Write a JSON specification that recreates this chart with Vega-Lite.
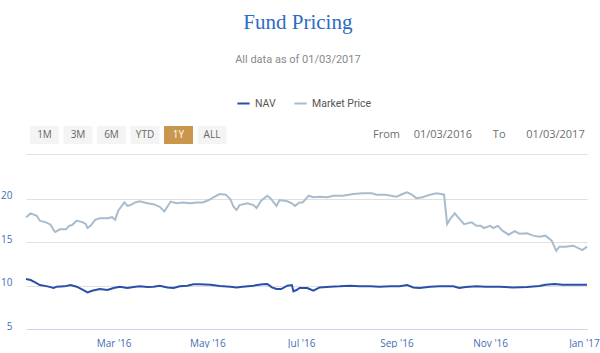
{
  "$schema": "https://vega.github.io/schema/vega-lite/v6.json",
  "background": "white",
  "padding": {"left": 0, "top": 12, "right": 0, "bottom": 0},
  "spacing": 10,
  "title": {
    "text": "Fund Pricing",
    "subtitle": "All data as of 01/03/2017",
    "anchor": "middle",
    "frame": "bounds",
    "font": "Liberation Serif",
    "fontSize": 21,
    "fontWeight": "normal",
    "color": "#2b6cc3",
    "subtitleFont": "Liberation Sans Narrow, Roboto",
    "subtitleFontSize": 11,
    "subtitleColor": "#8a8a8a",
    "subtitlePadding": 21,
    "offset": 31,
    "dx": -2
  },
  "vconcat": [
    {
      "width": 561,
      "height": 18,
      "layer": [
        {
          "data": {"values": [
            {"label": "1M", "selected": false},
            {"label": "3M", "selected": false},
            {"label": "6M", "selected": false},
            {"label": "YTD", "selected": false},
            {"label": "1Y", "selected": true},
            {"label": "ALL", "selected": false}
          ]},
          "mark": {"type": "rect"},
          "encoding": {
            "x": {"field": "label", "type": "nominal", "sort": null,
                  "scale": {"type": "band", "domain": ["1M", "3M", "6M", "YTD", "1Y", "ALL"], "range": [4, 200.5], "paddingInner": 0.134, "paddingOuter": 0},
                  "axis": null},
            "fill": {"condition": {"test": "datum.selected", "value": "#c9964c"}, "value": "#f4f4f4"}
          }
        },
        {
          "data": {"values": [
            {"label": "1M", "selected": false},
            {"label": "3M", "selected": false},
            {"label": "6M", "selected": false},
            {"label": "YTD", "selected": false},
            {"label": "1Y", "selected": true},
            {"label": "ALL", "selected": false}
          ]},
          "mark": {"type": "text", "font": "Open Sans", "fontSize": 10},
          "encoding": {
            "x": {"field": "label", "type": "nominal", "sort": null,
                  "scale": {"type": "band", "domain": ["1M", "3M", "6M", "YTD", "1Y", "ALL"], "range": [4, 200.5], "paddingInner": 0.134, "paddingOuter": 0},
                  "axis": null},
            "text": {"field": "label"},
            "color": {"condition": {"test": "datum.selected", "value": "#ffffff"}, "value": "#666666"}
          }
        },
        {
          "data": {"values": [
            {"item": "From"},
            {"item": "01/03/2016"},
            {"item": "To"},
            {"item": "01/03/2017"}
          ]},
          "mark": {"type": "text", "font": "Open Sans", "fontSize": 11, "color": "#6e6e6e"},
          "encoding": {
            "x": {"field": "item", "type": "nominal", "sort": null,
                  "scale": {"type": "point", "domain": ["From", "01/03/2016", "To", "01/03/2017"], "range": [360.5, 529.5], "padding": 0},
                  "axis": null},
            "text": {"field": "item"}
          }
        }
      ],
      "resolve": {"scale": {"x": "independent"}}
    },
    {
      "width": 561,
      "height": 175,
      "data": {"values": [
        {"date": "2016-01-04", "series": "Market Price", "value": 17.9},
        {"date": "2016-01-07", "series": "Market Price", "value": 18.34},
        {"date": "2016-01-11", "series": "Market Price", "value": 18.07},
        {"date": "2016-01-13", "series": "Market Price", "value": 17.5},
        {"date": "2016-01-17", "series": "Market Price", "value": 17.3},
        {"date": "2016-01-20", "series": "Market Price", "value": 17.03},
        {"date": "2016-01-22", "series": "Market Price", "value": 16.4},
        {"date": "2016-01-23", "series": "Market Price", "value": 16.2},
        {"date": "2016-01-26", "series": "Market Price", "value": 16.5},
        {"date": "2016-01-30", "series": "Market Price", "value": 16.5},
        {"date": "2016-02-01", "series": "Market Price", "value": 16.9},
        {"date": "2016-02-03", "series": "Market Price", "value": 17.0},
        {"date": "2016-02-06", "series": "Market Price", "value": 17.5},
        {"date": "2016-02-10", "series": "Market Price", "value": 17.3},
        {"date": "2016-02-12", "series": "Market Price", "value": 17.1},
        {"date": "2016-02-13", "series": "Market Price", "value": 16.65},
        {"date": "2016-02-15", "series": "Market Price", "value": 16.9},
        {"date": "2016-02-18", "series": "Market Price", "value": 17.6},
        {"date": "2016-02-21", "series": "Market Price", "value": 17.77},
        {"date": "2016-02-26", "series": "Market Price", "value": 17.77},
        {"date": "2016-02-29", "series": "Market Price", "value": 17.9},
        {"date": "2016-03-02", "series": "Market Price", "value": 17.6},
        {"date": "2016-03-04", "series": "Market Price", "value": 18.65},
        {"date": "2016-03-08", "series": "Market Price", "value": 19.6},
        {"date": "2016-03-10", "series": "Market Price", "value": 19.2},
        {"date": "2016-03-12", "series": "Market Price", "value": 19.3},
        {"date": "2016-03-15", "series": "Market Price", "value": 19.6},
        {"date": "2016-03-18", "series": "Market Price", "value": 19.73},
        {"date": "2016-03-23", "series": "Market Price", "value": 19.5},
        {"date": "2016-03-27", "series": "Market Price", "value": 19.4},
        {"date": "2016-03-31", "series": "Market Price", "value": 19.1},
        {"date": "2016-04-03", "series": "Market Price", "value": 18.57},
        {"date": "2016-04-06", "series": "Market Price", "value": 19.4},
        {"date": "2016-04-07", "series": "Market Price", "value": 19.7},
        {"date": "2016-04-11", "series": "Market Price", "value": 19.5},
        {"date": "2016-04-15", "series": "Market Price", "value": 19.6},
        {"date": "2016-04-20", "series": "Market Price", "value": 19.5},
        {"date": "2016-04-24", "series": "Market Price", "value": 19.6},
        {"date": "2016-04-28", "series": "Market Price", "value": 19.6},
        {"date": "2016-05-02", "series": "Market Price", "value": 19.88},
        {"date": "2016-05-05", "series": "Market Price", "value": 20.2},
        {"date": "2016-05-09", "series": "Market Price", "value": 20.57},
        {"date": "2016-05-13", "series": "Market Price", "value": 20.5},
        {"date": "2016-05-16", "series": "Market Price", "value": 19.95},
        {"date": "2016-05-18", "series": "Market Price", "value": 19.1},
        {"date": "2016-05-20", "series": "Market Price", "value": 18.73},
        {"date": "2016-05-22", "series": "Market Price", "value": 19.3},
        {"date": "2016-05-27", "series": "Market Price", "value": 19.5},
        {"date": "2016-05-31", "series": "Market Price", "value": 19.3},
        {"date": "2016-06-02", "series": "Market Price", "value": 18.96},
        {"date": "2016-06-05", "series": "Market Price", "value": 19.8},
        {"date": "2016-06-09", "series": "Market Price", "value": 20.38},
        {"date": "2016-06-11", "series": "Market Price", "value": 20.1},
        {"date": "2016-06-15", "series": "Market Price", "value": 19.2},
        {"date": "2016-06-17", "series": "Market Price", "value": 19.88},
        {"date": "2016-06-22", "series": "Market Price", "value": 19.73},
        {"date": "2016-06-25", "series": "Market Price", "value": 19.5},
        {"date": "2016-06-27", "series": "Market Price", "value": 19.2},
        {"date": "2016-06-30", "series": "Market Price", "value": 19.6},
        {"date": "2016-07-02", "series": "Market Price", "value": 19.6},
        {"date": "2016-07-06", "series": "Market Price", "value": 20.38},
        {"date": "2016-07-09", "series": "Market Price", "value": 20.2},
        {"date": "2016-07-13", "series": "Market Price", "value": 20.27},
        {"date": "2016-07-18", "series": "Market Price", "value": 20.2},
        {"date": "2016-07-22", "series": "Market Price", "value": 20.38},
        {"date": "2016-07-28", "series": "Market Price", "value": 20.38},
        {"date": "2016-08-04", "series": "Market Price", "value": 20.57},
        {"date": "2016-08-10", "series": "Market Price", "value": 20.65},
        {"date": "2016-08-16", "series": "Market Price", "value": 20.65},
        {"date": "2016-08-19", "series": "Market Price", "value": 20.5},
        {"date": "2016-08-25", "series": "Market Price", "value": 20.5},
        {"date": "2016-09-01", "series": "Market Price", "value": 20.27},
        {"date": "2016-09-05", "series": "Market Price", "value": 20.57},
        {"date": "2016-09-08", "series": "Market Price", "value": 20.76},
        {"date": "2016-09-11", "series": "Market Price", "value": 20.5},
        {"date": "2016-09-14", "series": "Market Price", "value": 20.1},
        {"date": "2016-09-18", "series": "Market Price", "value": 20.2},
        {"date": "2016-09-23", "series": "Market Price", "value": 20.5},
        {"date": "2016-09-27", "series": "Market Price", "value": 20.65},
        {"date": "2016-09-30", "series": "Market Price", "value": 20.57},
        {"date": "2016-10-02", "series": "Market Price", "value": 20.5},
        {"date": "2016-10-04", "series": "Market Price", "value": 17.1},
        {"date": "2016-10-06", "series": "Market Price", "value": 17.7},
        {"date": "2016-10-09", "series": "Market Price", "value": 18.34},
        {"date": "2016-10-12", "series": "Market Price", "value": 17.7},
        {"date": "2016-10-15", "series": "Market Price", "value": 17.1},
        {"date": "2016-10-20", "series": "Market Price", "value": 17.3},
        {"date": "2016-10-23", "series": "Market Price", "value": 16.9},
        {"date": "2016-10-26", "series": "Market Price", "value": 16.9},
        {"date": "2016-10-28", "series": "Market Price", "value": 16.65},
        {"date": "2016-11-01", "series": "Market Price", "value": 16.9},
        {"date": "2016-11-03", "series": "Market Price", "value": 16.65},
        {"date": "2016-11-06", "series": "Market Price", "value": 16.9},
        {"date": "2016-11-09", "series": "Market Price", "value": 16.35},
        {"date": "2016-11-13", "series": "Market Price", "value": 15.88},
        {"date": "2016-11-17", "series": "Market Price", "value": 16.3},
        {"date": "2016-11-20", "series": "Market Price", "value": 16.0},
        {"date": "2016-11-25", "series": "Market Price", "value": 16.05},
        {"date": "2016-11-29", "series": "Market Price", "value": 15.77},
        {"date": "2016-12-03", "series": "Market Price", "value": 15.65},
        {"date": "2016-12-07", "series": "Market Price", "value": 15.77},
        {"date": "2016-12-11", "series": "Market Price", "value": 15.19},
        {"date": "2016-12-13", "series": "Market Price", "value": 14.42},
        {"date": "2016-12-14", "series": "Market Price", "value": 14.03},
        {"date": "2016-12-16", "series": "Market Price", "value": 14.5},
        {"date": "2016-12-20", "series": "Market Price", "value": 14.5},
        {"date": "2016-12-25", "series": "Market Price", "value": 14.61},
        {"date": "2016-12-28", "series": "Market Price", "value": 14.35},
        {"date": "2016-12-31", "series": "Market Price", "value": 14.11},
        {"date": "2017-01-03", "series": "Market Price", "value": 14.5},
        {"date": "2016-01-04", "series": "NAV", "value": 10.77},
        {"date": "2016-01-07", "series": "NAV", "value": 10.65},
        {"date": "2016-01-10", "series": "NAV", "value": 10.38},
        {"date": "2016-01-13", "series": "NAV", "value": 10.07},
        {"date": "2016-01-18", "series": "NAV", "value": 9.92},
        {"date": "2016-01-22", "series": "NAV", "value": 9.73},
        {"date": "2016-01-24", "series": "NAV", "value": 9.88},
        {"date": "2016-01-29", "series": "NAV", "value": 9.92},
        {"date": "2016-02-02", "series": "NAV", "value": 10.07},
        {"date": "2016-02-06", "series": "NAV", "value": 9.88},
        {"date": "2016-02-11", "series": "NAV", "value": 9.42},
        {"date": "2016-02-13", "series": "NAV", "value": 9.23},
        {"date": "2016-02-16", "series": "NAV", "value": 9.42},
        {"date": "2016-02-21", "series": "NAV", "value": 9.61},
        {"date": "2016-02-26", "series": "NAV", "value": 9.5},
        {"date": "2016-03-01", "series": "NAV", "value": 9.73},
        {"date": "2016-03-05", "series": "NAV", "value": 9.88},
        {"date": "2016-03-10", "series": "NAV", "value": 9.73},
        {"date": "2016-03-14", "series": "NAV", "value": 9.84},
        {"date": "2016-03-18", "series": "NAV", "value": 9.92},
        {"date": "2016-03-23", "series": "NAV", "value": 9.84},
        {"date": "2016-03-27", "series": "NAV", "value": 9.88},
        {"date": "2016-03-31", "series": "NAV", "value": 10.0},
        {"date": "2016-04-05", "series": "NAV", "value": 9.8},
        {"date": "2016-04-09", "series": "NAV", "value": 9.73},
        {"date": "2016-04-13", "series": "NAV", "value": 9.92},
        {"date": "2016-04-18", "series": "NAV", "value": 10.0},
        {"date": "2016-04-22", "series": "NAV", "value": 10.15},
        {"date": "2016-04-26", "series": "NAV", "value": 10.15},
        {"date": "2016-05-03", "series": "NAV", "value": 10.1},
        {"date": "2016-05-09", "series": "NAV", "value": 9.96},
        {"date": "2016-05-16", "series": "NAV", "value": 9.88},
        {"date": "2016-05-20", "series": "NAV", "value": 9.8},
        {"date": "2016-05-24", "series": "NAV", "value": 9.88},
        {"date": "2016-05-31", "series": "NAV", "value": 10.0},
        {"date": "2016-06-06", "series": "NAV", "value": 10.15},
        {"date": "2016-06-09", "series": "NAV", "value": 10.19},
        {"date": "2016-06-12", "series": "NAV", "value": 9.8},
        {"date": "2016-06-15", "series": "NAV", "value": 9.61},
        {"date": "2016-06-18", "series": "NAV", "value": 9.61},
        {"date": "2016-06-22", "series": "NAV", "value": 10.0},
        {"date": "2016-06-25", "series": "NAV", "value": 10.07},
        {"date": "2016-06-26", "series": "NAV", "value": 9.34},
        {"date": "2016-06-28", "series": "NAV", "value": 9.5},
        {"date": "2016-06-30", "series": "NAV", "value": 9.73},
        {"date": "2016-07-05", "series": "NAV", "value": 9.73},
        {"date": "2016-07-09", "series": "NAV", "value": 9.42},
        {"date": "2016-07-13", "series": "NAV", "value": 9.8},
        {"date": "2016-07-20", "series": "NAV", "value": 9.88},
        {"date": "2016-07-26", "series": "NAV", "value": 9.92},
        {"date": "2016-08-02", "series": "NAV", "value": 10.0},
        {"date": "2016-08-08", "series": "NAV", "value": 9.92},
        {"date": "2016-08-15", "series": "NAV", "value": 9.92},
        {"date": "2016-08-21", "series": "NAV", "value": 9.88},
        {"date": "2016-08-28", "series": "NAV", "value": 9.92},
        {"date": "2016-09-03", "series": "NAV", "value": 9.92},
        {"date": "2016-09-08", "series": "NAV", "value": 10.07},
        {"date": "2016-09-12", "series": "NAV", "value": 9.8},
        {"date": "2016-09-16", "series": "NAV", "value": 9.73},
        {"date": "2016-09-23", "series": "NAV", "value": 9.88},
        {"date": "2016-09-29", "series": "NAV", "value": 9.92},
        {"date": "2016-10-08", "series": "NAV", "value": 9.92},
        {"date": "2016-10-12", "series": "NAV", "value": 9.73},
        {"date": "2016-10-16", "series": "NAV", "value": 9.84},
        {"date": "2016-10-23", "series": "NAV", "value": 9.92},
        {"date": "2016-10-29", "series": "NAV", "value": 9.88},
        {"date": "2016-11-07", "series": "NAV", "value": 9.88},
        {"date": "2016-11-16", "series": "NAV", "value": 9.8},
        {"date": "2016-11-25", "series": "NAV", "value": 9.84},
        {"date": "2016-12-03", "series": "NAV", "value": 9.96},
        {"date": "2016-12-07", "series": "NAV", "value": 10.1},
        {"date": "2016-12-13", "series": "NAV", "value": 10.19},
        {"date": "2016-12-18", "series": "NAV", "value": 10.1},
        {"date": "2016-12-25", "series": "NAV", "value": 10.1},
        {"date": "2017-01-03", "series": "NAV", "value": 10.1}
      ]},
      "mark": {"type": "line", "strokeWidth": 2, "interpolate": "linear"},
      "encoding": {
        "x": {
          "field": "date", "type": "temporal",
          "scale": {"type": "utc", "domain": [{"year": 2016, "month": 1, "date": 4, "utc": true}, {"year": 2017, "month": 1, "date": 3, "utc": true}]},
          "axis": {
            "title": null,
            "values": [
              {"year": 2016, "month": 3, "date": 1, "utc": true},
              {"year": 2016, "month": 5, "date": 1, "utc": true},
              {"year": 2016, "month": 7, "date": 1, "utc": true},
              {"year": 2016, "month": 9, "date": 1, "utc": true},
              {"year": 2016, "month": 11, "date": 1, "utc": true},
              {"year": 2017, "month": 1, "date": 1, "utc": true}
            ],
            "format": "%b '%y",
            "labelColor": "#3f6eb5",
            "labelFont": "Open Sans",
            "labelFontSize": 10,
            "labelPadding": 9,
            "labelFlush": false,
            "ticks": false,
            "grid": false,
            "domainColor": "#ccd6eb"
          }
        },
        "y": {
          "field": "value", "type": "quantitative",
          "scale": {"domain": [5, 25.19], "nice": false, "zero": false},
          "axis": {
            "title": null,
            "values": [5, 10, 15, 20, 25.19],
            "labelExpr": "datum.value > 21 ? '' : datum.label",
            "grid": true,
            "gridColor": "#e0e0e0",
            "domain": false,
            "ticks": false,
            "labelColor": "#3f6eb5",
            "labelFont": "Open Sans",
            "labelFontSize": 10,
            "labelPadding": 14,
            "labelBaseline": "alphabetic"
          }
        },
        "color": {
          "field": "series", "type": "nominal",
          "scale": {"domain": ["NAV", "Market Price"], "range": ["#2b4fa8", "#a9bccd"]},
          "legend": {
            "orient": "none",
            "legendX": 210,
            "legendY": -30,
            "direction": "horizontal",
            "title": null,
            "symbolType": "stroke",
            "symbolStrokeWidth": 2,
            "symbolSize": 150,
            "labelFont": "Liberation Sans Narrow, Roboto",
            "labelFontSize": 10.5,
            "labelColor": "#555555",
            "columnPadding": 14,
            "labelOffset": 4
          }
        }
      }
    }
  ],
  "config": {
    "view": {"stroke": null}
  }
}
